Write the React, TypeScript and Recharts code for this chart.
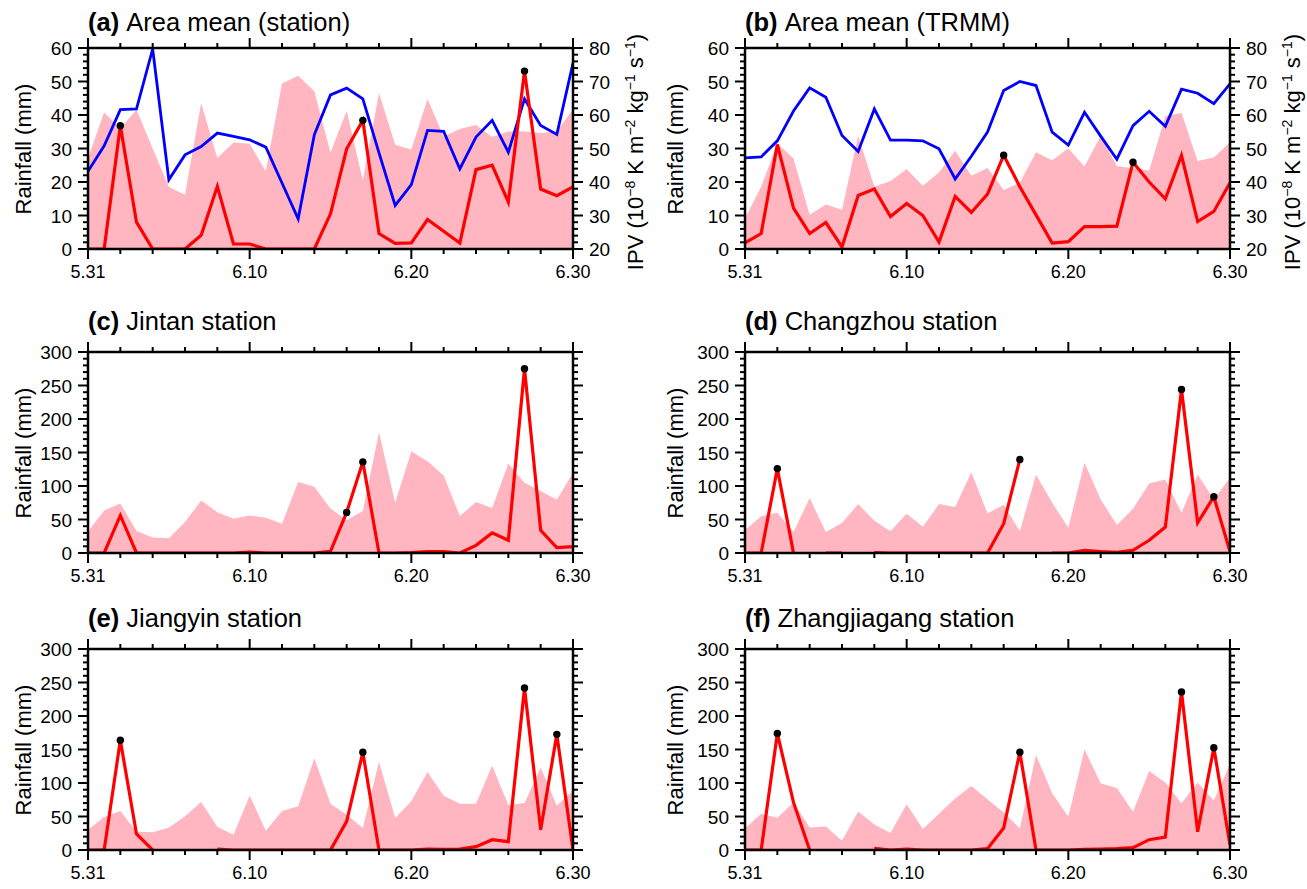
import React from 'react';
import { ComposedChart, Area, Line, XAxis, YAxis } from 'recharts';

const FONT = '"Liberation Sans", Arial, Helvetica, sans-serif';

// 5.31 .. 6.30
const dayLabels = [
  '5.31', '6.1', '6.2', '6.3', '6.4', '6.5', '6.6', '6.7', '6.8', '6.9', '6.10',
  '6.11', '6.12', '6.13', '6.14', '6.15', '6.16', '6.17', '6.18', '6.19', '6.20',
  '6.21', '6.22', '6.23', '6.24', '6.25', '6.26', '6.27', '6.28', '6.29', '6.30',
];
const majorDays = [0, 10, 20, 30];
const majorDayLabels = ['5.31', '6.10', '6.20', '6.30'];

// (a) area mean, station
const pinkA = [27, 40.8, 36, 41.6, 30, 18.5, 16.2, 43.6, 27.2, 31.8, 31.4, 23.2, 49.4, 51.7, 47.1, 28.7, 41.3, 20.5, 46.6, 31.1, 29.7, 44.8, 33.6, 35.8, 37.0, 33.4, 35.1, 35.1, 34.6, 35.1, 41.8];
const redA = [0, 0, 36.8, 8, 0, 0, 0, 4.1, 18.7, 1.5, 1.5, 0, 0, 0, 0, 10.5, 29.9, 38.4, 4.6, 1.7, 1.8, 8.8, 5.3, 1.8, 23.7, 25, 14, 53.1, 17.9, 15.9, 18.5];
const ipvA = [43.2, 50.8, 61.6, 61.8, 79.7, 40.7, 48.1, 50.6, 54.6, 53.6, 52.6, 50.4, 39.7, 29.0, 54.1, 66.0, 68.0, 64.8, 48.7, 33.0, 39.2, 55.4, 55.1, 43.9, 53.4, 58.4, 48.9, 64.8, 56.9, 54.2, 75.5];
const peaksA = [2, 17, 27];

// (b) area mean, TRMM
const pinkB = [9.2, 18.6, 31.5, 27, 10.2, 13.3, 11.7, 33.7, 18.6, 20.3, 23.8, 18.9, 22.8, 29.3, 21.9, 24.2, 17.6, 19.8, 28.9, 26.5, 30, 24.6, 33.7, 24.8, 24.1, 23.4, 39.6, 40.6, 26.3, 27.3, 31.9];
const redB = [1.8, 4.6, 31.2, 12.2, 4.6, 7.9, 0.6, 16, 17.9, 9.7, 13.6, 10, 2.1, 15.7, 10.9, 16.4, 28, 18.6, 10.2, 1.8, 2.2, 6.7, 6.7, 6.8, 25.9, 20, 15, 27.9, 8.2, 11.2, 19.8];
const ipvB = [47.2, 47.5, 52.3, 61.2, 68.1, 65.3, 53.9, 49.1, 61.8, 52.5, 52.5, 52.3, 49.9, 40.9, 47.7, 54.9, 67.3, 70, 68.8, 54.9, 51, 60.8, 53.7, 46.8, 56.8, 61.1, 56.6, 67.7, 66.5, 63.4, 69.3];
const peaksB = [16, 24];

// (c) Jintan
const pinkC = [32, 63.6, 74, 32.8, 23.3, 21.9, 46.2, 78.5, 61, 51.2, 56.1, 52.7, 43.7, 105.8, 98.9, 66.6, 48.7, 62.6, 180.3, 75, 151.5, 137, 115.7, 55.1, 76, 67, 133.6, 104.8, 92.4, 79.5, 119.7];
const redC = [0, 0, 56, 0, 0, 0, 0, 0, 0, 0, 1.5, 0, 0, 0, 0, 2.5, 60.6, 136, 0, 0, 0.5, 2, 2, 0, 11.4, 30, 19, 275, 34, 8, 9.5];
const peaksC = [16, 17, 27];

// (d) Changzhou
const pinkD = [33.8, 55, 60, 31.3, 82, 31.3, 44.7, 73, 48.2, 32.3, 58.6, 39.2, 73, 68.6, 120.7, 59.1, 72, 32.3, 116.7, 75, 37.8, 134.6, 80, 41.7, 66, 103.8, 109.8, 60, 117.2, 80, 112.3];
const redD = [0, 0, 126, 0, null, 0, 0, null, 0.5, 0, 0, 0, 0, 0, 0, 0, 43.7, 139.6, null, 0, 0, 4, 2, 1, 4, 19, 38.7, 244, 45, 84, 2];
const peaksD = [2, 17, 27, 29];

// (e) Jiangyin
const pinkE = [30.3, 49.3, 58.2, 27.4, 26.4, 33.3, 50.2, 71.6, 34.3, 22.9, 81.1, 28.9, 58.2, 65.2, 136.8, 69.2, 52.7, 32.8, 131.8, 47.8, 72.6, 116.4, 81.1, 69.2, 69.2, 125.9, 67.2, 70.1, 122.9, 66.2, 88.6];
const redE = [0, 0, 163.7, 23.9, 0, null, null, null, 1.5, 0, 0, 0, 0, 0, 0, 0, 42.8, 145.8, 0, 0, 0, 1.5, 1, 1.5, 5, 15.4, 12.4, 241.8, 30.3, 172.6, 0];
const peaksE = [2, 17, 27, 29];

// (f) Zhangjiagang
const pinkF = [32.2, 54, 48.1, 71, 33.7, 35.2, 13.9, 57.5, 38.2, 25.3, 68.4, 31.2, 54, 76.8, 95.7, 75.9, 56, 32.2, 141.8, 84.8, 49.6, 150.2, 99.7, 92.7, 57, 118, 100.6, 69.9, 100.6, 73.9, 128];
const redF = [0, 0, 174, 71, 0, null, null, null, 2.5, 0, 1.5, 0, 0, 0, 0, 2, 32.7, 146, 0, 0, 0, 1, 1.5, 2, 3.5, 15.4, 19.3, 236, 27.3, 152.7, 8];
const peaksF = [2, 17, 27, 29];

const COLS = [88, 745];
const ROWS = [48, 352, 649];
const TITLE_GAP = [38, 43, 43];
const PLOT_W = 485;
const PLOT_H = 201;
const LEFT_W = 60;
const RIGHT_W = 60;
const TOP_H = 20;
const BOTTOM_H = 40;

const range = (a: number, b: number, step: number) => {
  const out: number[] = [];
  for (let v = a; v <= b + 1e-9; v += step) out.push(v);
  return out;
};

const xTicks = dayLabels.map((_, i) => i).filter((i) => i % 2 === 0);
const axisStyle = { stroke: '#000', strokeWidth: 2.5 };

function bottomTick(props: any) {
  const { x, y, payload } = props;
  const k = majorDays.indexOf(payload.value);
  return (
    <g>
      <line x1={x} x2={x} y1={y} y2={y + (k >= 0 ? 10 : 5)} stroke="#000" strokeWidth={2} />
      {k >= 0 && (
        <text x={x} y={y + 29} textAnchor="middle" fontSize={18} fontFamily={FONT} fill="#000">
          {majorDayLabels[k]}
        </text>
      )}
    </g>
  );
}

function topTick(props: any) {
  const { x, y, payload } = props;
  const major = majorDays.includes(payload.value);
  return <line x1={x} x2={x} y1={y} y2={y - (major ? 10 : 5)} stroke="#000" strokeWidth={2} />;
}

const sideTick = (side: 'left' | 'right', majorStep: number, labels: boolean) => (props: any) => {
  const { x, y, payload } = props;
  const v = payload.value;
  const major = Math.abs(v % majorStep) < 1e-6;
  const dir = side === 'left' ? -1 : 1;
  return (
    <g>
      <line x1={x} x2={x + dir * (major ? 10 : 5)} y1={y} y2={y} stroke="#000" strokeWidth={2} />
      {labels && major && (
        <text
          x={x + dir * 16}
          y={y + 7}
          textAnchor={side === 'left' ? 'end' : 'start'}
          fontSize={19}
          fontFamily={FONT}
          fill="#000"
        >
          {v}
        </text>
      )}
    </g>
  );
};

interface PanelProps {
  letter: string;
  name: string;
  pink: number[];
  red: (number | null)[];
  ipv?: number[];
  peaks: number[];
  yMax: number;
  yMajor: number;
  yMinor: number;
  col: number;
  row: number;
}

function Panel({ letter, name, pink, red, ipv, peaks, yMax, yMajor, yMinor, col, row }: PanelProps) {
  const plotX = COLS[col];
  const plotY = ROWS[row];
  const rows = dayLabels.map((day, i) => ({
    i,
    day,
    pink: pink[i],
    red: red[i],
    ipv: ipv ? ipv[i] : null,
  }));
  const yTicks = range(0, yMax, yMinor);
  const ipvTicks = range(20, 80, 2);

  const peakDot = (p: any) =>
    peaks.includes(p.index) && p.cy != null ? (
      <circle key={`pk-${p.index}`} cx={p.cx} cy={p.cy} r={3.7} fill="#000" />
    ) : (
      <g key={`pk-${p.index}`} />
    );

  const sup = { fontSize: 14 };

  return (
    <>
      <div
        style={{
          position: 'absolute',
          left: plotX,
          top: plotY - TITLE_GAP[row],
          fontSize: 25.5,
          lineHeight: 1,
          whiteSpace: 'nowrap',
        }}
      >
        <b>({letter})</b>&nbsp;{name}
      </div>
      <div
        style={{
          position: 'absolute',
          left: plotX - (col === 0 ? 64 : 69),
          top: plotY + PLOT_H / 2,
          transform: 'translate(-50%, -50%) rotate(-90deg)',
          fontSize: 22,
          lineHeight: 1,
          whiteSpace: 'nowrap',
        }}
      >
        Rainfall (mm)
      </div>
      {ipv && (
        <div
          style={{
            position: 'absolute',
            left: plotX + PLOT_W + 62,
            top: plotY + PLOT_H / 2 + 3,
            transform: 'translate(-50%, -50%) rotate(-90deg)',
            fontSize: 22,
            lineHeight: 1,
            whiteSpace: 'nowrap',
          }}
        >
          IPV (10<sup style={sup}>−8</sup> K m<sup style={sup}>−2</sup> kg<sup style={sup}>−1</sup> s
          <sup style={sup}>−1</sup>)
        </div>
      )}
      <div style={{ position: 'absolute', left: plotX - LEFT_W, top: plotY - TOP_H }}>
        <ComposedChart
          width={LEFT_W + PLOT_W + RIGHT_W}
          height={TOP_H + PLOT_H + BOTTOM_H}
          data={rows}
          margin={{ top: 0, right: 0, bottom: 0, left: 0 }}
        >
          <Area
            xAxisId="b"
            yAxisId="l"
            type="linear"
            dataKey="pink"
            stroke="none"
            fill="#FFB6C1"
            fillOpacity={1}
            isAnimationActive={false}
          />
          {ipv && (
            <Line
              xAxisId="b"
              yAxisId="r"
              type="linear"
              dataKey="ipv"
              stroke="#0000FF"
              strokeWidth={2.8}
              dot={false}
              isAnimationActive={false}
            />
          )}
          <Line
            xAxisId="b"
            yAxisId="l"
            type="linear"
            dataKey="red"
            stroke="#FF0000"
            strokeWidth={3.2}
            dot={peakDot}
            activeDot={false}
            connectNulls={false}
            isAnimationActive={false}
          />
          <XAxis
            xAxisId="b"
            dataKey="i"
            type="number"
            domain={[0, 30]}
            allowDataOverflow
            ticks={xTicks}
            interval={0}
            height={BOTTOM_H}
            tickSize={0}
            tickMargin={0}
            tickLine={false}
            axisLine={axisStyle}
            tick={bottomTick}
          />
          <XAxis
            xAxisId="t"
            orientation="top"
            dataKey="i"
            type="number"
            domain={[0, 30]}
            allowDataOverflow
            ticks={xTicks}
            interval={0}
            height={TOP_H}
            tickSize={0}
            tickMargin={0}
            tickLine={false}
            axisLine={axisStyle}
            tick={topTick}
          />
          <YAxis
            yAxisId="l"
            type="number"
            domain={[0, yMax]}
            allowDataOverflow
            ticks={yTicks}
            interval={0}
            width={LEFT_W}
            tickSize={0}
            tickMargin={0}
            tickLine={false}
            axisLine={axisStyle}
            tick={sideTick('left', yMajor, true)}
          />
          {ipv ? (
            <YAxis
              yAxisId="r"
              orientation="right"
              type="number"
              domain={[20, 80]}
              allowDataOverflow
              ticks={ipvTicks}
              interval={0}
              width={RIGHT_W}
              tickSize={0}
              tickMargin={0}
              tickLine={false}
              axisLine={axisStyle}
              tick={sideTick('right', 10, true)}
            />
          ) : (
            <YAxis
              yAxisId="r"
              orientation="right"
              type="number"
              domain={[0, yMax]}
              allowDataOverflow
              ticks={yTicks}
              interval={0}
              width={RIGHT_W}
              tickSize={0}
              tickMargin={0}
              tickLine={false}
              axisLine={axisStyle}
              tick={sideTick('right', yMajor, false)}
            />
          )}
        </ComposedChart>
      </div>
    </>
  );
}

export default function App() {
  return (
    <div
      style={{
        position: 'absolute',
        left: 0,
        top: 0,
        width: 1307,
        height: 889,
        background: '#fff',
        fontFamily: FONT,
        color: '#000',
      }}
    >
      <Panel letter="a" name="Area mean (station)" pink={pinkA} red={redA} ipv={ipvA} peaks={peaksA} yMax={60} yMajor={10} yMinor={2} col={0} row={0} />
      <Panel letter="b" name="Area mean (TRMM)" pink={pinkB} red={redB} ipv={ipvB} peaks={peaksB} yMax={60} yMajor={10} yMinor={2} col={1} row={0} />
      <Panel letter="c" name="Jintan station" pink={pinkC} red={redC} peaks={peaksC} yMax={300} yMajor={50} yMinor={10} col={0} row={1} />
      <Panel letter="d" name="Changzhou station" pink={pinkD} red={redD} peaks={peaksD} yMax={300} yMajor={50} yMinor={10} col={1} row={1} />
      <Panel letter="e" name="Jiangyin station" pink={pinkE} red={redE} peaks={peaksE} yMax={300} yMajor={50} yMinor={10} col={0} row={2} />
      <Panel letter="f" name="Zhangjiagang station" pink={pinkF} red={redF} peaks={peaksF} yMax={300} yMajor={50} yMinor={10} col={1} row={2} />
    </div>
  );
}
